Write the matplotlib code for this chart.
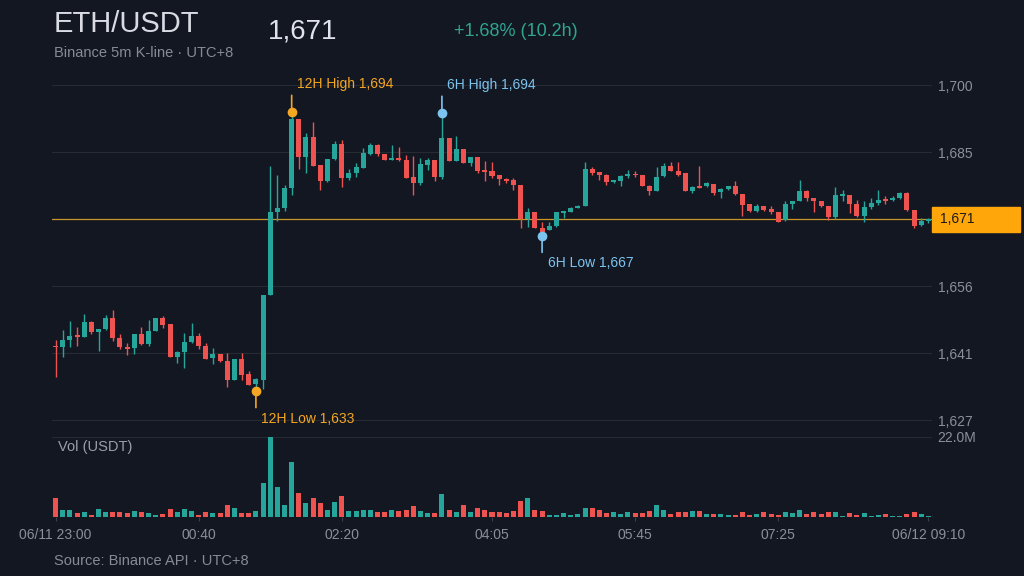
import numpy as np
import pandas as pd
import matplotlib.pyplot as plt
import matplotlib.transforms as mtransforms
from matplotlib.patches import Rectangle

plt.rcParams['font.family'] = ['Liberation Sans', 'DejaVu Sans']

# colours
bg = '#131722'
grid_c = '#262a33'
txt_c = '#8b8f98'
up_c = '#26a69a'
down_c = '#ef5350'
orange = '#f5a623'
blue = '#7cc4ef'

# 5m candles, 06/11 23:00 -> 06/12 09:10 (UTC+8)
opens = [1642.8, 1642.7, 1644.1, 1645.1, 1644.8, 1648.2, 1646.0, 1646.5, 1648.9, 1644.6,
         1642.7, 1642.3, 1645.4, 1643.2, 1646.2, 1648.9, 1647.6, 1640.5, 1641.6, 1643.7,
         1645.0, 1642.9, 1640.3, 1641.0, 1639.6, 1635.4, 1639.9, 1636.6, 1634.5, 1635.4,
         1654.1, 1672.1, 1673.0, 1677.4, 1692.5, 1684.3, 1688.7, 1682.5, 1679.0, 1683.7,
         1687.2, 1679.6, 1680.8, 1681.9, 1685.0, 1686.9, 1684.9, 1683.6, 1684.0, 1683.6,
         1679.8, 1678.6, 1682.5, 1683.6, 1679.8, 1688.5, 1683.3, 1685.9, 1683.0, 1684.2,
         1681.4, 1681.1, 1680.2, 1679.5, 1679.2, 1678.2, 1670.6, 1672.1, 1668.6, 1668.2,
         1669.1, 1671.9, 1672.3, 1673.0, 1673.6, 1681.7, 1680.9, 1680.4, 1678.7, 1679.0,
         1680.1, 1680.6, 1680.2, 1678.0, 1676.9, 1680.0, 1682.2, 1681.1, 1680.8, 1676.7,
         1677.8, 1677.9, 1678.3, 1676.5, 1677.2, 1678.0, 1676.2, 1673.9, 1672.4, 1673.6,
         1672.8, 1672.1, 1670.4, 1674.0, 1674.6, 1676.9, 1675.3, 1674.6, 1673.4, 1671.1,
         1675.8, 1675.9, 1674.0, 1671.4, 1673.3, 1674.2, 1675.0, 1674.8, 1675.3, 1676.4,
         1672.6, 1669.3, 1670.2]
highs = [1644.1, 1646.3, 1648.4, 1647.0, 1649.8, 1648.4, 1646.6, 1649.6, 1650.7, 1645.4,
         1643.6, 1645.4, 1646.9, 1648.5, 1648.9, 1649.4, 1647.6, 1641.8, 1645.6, 1647.9,
         1645.7, 1643.6, 1642.3, 1641.0, 1641.4, 1639.9, 1641.2, 1637.4, 1635.8, 1654.1,
         1682.3, 1680.3, 1678.2, 1694.1, 1692.5, 1689.4, 1692.0, 1682.5, 1683.7, 1687.8,
         1687.9, 1681.7, 1683.0, 1686.2, 1687.3, 1687.0, 1685.0, 1686.9, 1686.5, 1684.6,
         1684.4, 1684.1, 1684.0, 1683.6, 1693.9, 1688.5, 1688.9, 1685.9, 1684.2, 1684.2,
         1683.4, 1683.2, 1680.2, 1679.7, 1679.7, 1678.2, 1673.0, 1672.1, 1669.9, 1669.9,
         1672.3, 1672.4, 1673.2, 1673.8, 1683.2, 1682.0, 1681.0, 1680.5, 1679.3, 1680.3,
         1681.3, 1681.2, 1680.3, 1678.1, 1682.0, 1682.9, 1683.1, 1683.2, 1680.8, 1677.8,
         1682.2, 1678.7, 1678.3, 1677.5, 1677.9, 1679.0, 1676.2, 1673.9, 1673.9, 1673.6,
         1673.4, 1672.1, 1674.6, 1674.7, 1679.2, 1677.0, 1675.3, 1674.7, 1673.5, 1677.7,
         1677.0, 1676.0, 1674.8, 1674.6, 1675.2, 1677.1, 1675.8, 1675.8, 1676.5, 1676.6,
         1672.6, 1670.8, 1670.9]
lows = [1636.0, 1640.4, 1642.6, 1642.9, 1644.8, 1645.4, 1641.7, 1646.4, 1644.0, 1642.1,
        1640.8, 1641.0, 1643.1, 1642.9, 1646.2, 1646.7, 1640.5, 1639.2, 1638.1, 1643.4,
        1642.1, 1640.0, 1639.0, 1639.3, 1633.8, 1635.4, 1635.4, 1634.3, 1633.0, 1633.4,
        1654.0, 1670.2, 1672.4, 1676.0, 1681.7, 1680.8, 1682.3, 1677.1, 1678.8, 1683.5,
        1677.6, 1679.2, 1679.9, 1681.9, 1684.6, 1684.5, 1683.5, 1683.6, 1683.3, 1679.6,
        1675.9, 1678.1, 1681.5, 1679.0, 1679.4, 1683.3, 1683.3, 1683.0, 1682.2, 1680.7,
        1679.0, 1679.6, 1678.2, 1678.6, 1677.0, 1668.7, 1669.0, 1668.6, 1667.0, 1668.2,
        1668.9, 1670.9, 1672.1, 1673.0, 1673.6, 1680.3, 1679.1, 1678.2, 1678.5, 1677.9,
        1679.6, 1679.8, 1677.9, 1676.0, 1676.7, 1679.9, 1681.1, 1680.0, 1676.7, 1676.4,
        1677.5, 1677.6, 1675.9, 1675.2, 1677.0, 1676.0, 1671.3, 1672.2, 1672.2, 1672.4,
        1671.7, 1670.1, 1670.3, 1672.9, 1674.5, 1674.6, 1672.1, 1673.2, 1670.4, 1670.6,
        1674.5, 1671.9, 1671.0, 1669.9, 1672.9, 1673.8, 1674.0, 1674.6, 1675.1, 1672.5,
        1668.6, 1669.2, 1669.8]
closes = [1642.6, 1644.1, 1645.0, 1644.9, 1648.2, 1645.9, 1646.6, 1648.9, 1644.5, 1642.6,
          1642.1, 1645.4, 1643.2, 1646.2, 1648.9, 1647.5, 1640.5, 1641.6, 1643.7, 1645.0,
          1642.9, 1640.0, 1641.0, 1639.5, 1635.4, 1639.9, 1636.5, 1634.4, 1635.5, 1654.1,
          1672.2, 1673.0, 1677.4, 1692.5, 1684.3, 1688.7, 1682.3, 1679.0, 1683.7, 1687.2,
          1679.6, 1680.7, 1682.0, 1685.2, 1686.9, 1684.8, 1683.6, 1684.1, 1683.5, 1679.6,
          1678.6, 1682.7, 1683.6, 1679.8, 1688.5, 1683.3, 1685.9, 1683.0, 1684.2, 1681.2,
          1681.0, 1680.0, 1679.5, 1679.0, 1678.1, 1670.6, 1672.1, 1668.6, 1667.8, 1669.1,
          1672.3, 1672.4, 1673.0, 1673.6, 1681.7, 1680.7, 1680.3, 1678.7, 1679.1, 1680.1,
          1680.6, 1680.2, 1678.0, 1676.9, 1679.9, 1682.2, 1681.1, 1680.4, 1676.9, 1677.7,
          1677.5, 1678.5, 1676.4, 1677.2, 1677.9, 1676.2, 1673.8, 1672.4, 1673.6, 1672.6,
          1672.1, 1670.1, 1674.0, 1674.6, 1676.8, 1675.2, 1674.6, 1673.4, 1671.1, 1675.9,
          1676.0, 1673.9, 1671.4, 1673.2, 1674.2, 1674.9, 1674.7, 1675.3, 1676.4, 1672.6,
          1669.1, 1670.2, 1670.6]
# volume in millions of USDT
volumes = [5.3, 1.8, 2.0, 1.1, 1.4, 0.6, 2.2, 1.3, 1.3, 1.3,
           1.1, 1.7, 1.3, 1.1, 0.6, 0.9, 2.2, 1.5, 2.3, 1.6,
           0.6, 1.3, 1.1, 1.1, 3.3, 2.6, 1.1, 1.1, 1.6, 9.4,
           22.0, 8.3, 3.3, 15.0, 6.7, 3.9, 5.1, 3.9, 1.8, 4.2,
           5.9, 1.6, 1.6, 2.0, 1.8, 1.3, 1.3, 2.0, 1.7, 1.8,
           3.1, 1.6, 1.1, 1.1, 6.4, 2.0, 1.4, 3.3, 1.4, 2.4,
           1.8, 1.3, 1.3, 1.1, 1.6, 4.4, 5.1, 1.8, 1.6, 0.6,
           0.6, 1.1, 0.6, 0.9, 2.6, 2.4, 2.0, 1.1, 1.3, 0.9,
           1.3, 1.1, 1.1, 1.7, 3.4, 2.0, 0.9, 1.4, 1.4, 1.7,
           1.6, 0.9, 0.9, 0.9, 0.6, 0.6, 1.5, 0.6, 0.9, 1.5,
           0.9, 0.6, 1.5, 1.1, 1.8, 0.9, 1.5, 0.9, 1.3, 1.3,
           0.4, 1.1, 0.6, 1.1, 0.4, 0.6, 0.9, 0.4, 0.4, 0.9,
           1.3, 0.9, 0.4]

price_ticks = [1626.6, 1641.3, 1655.9, 1670.6, 1685.3, 1700.0]
vol_top = 22.0

times = pd.date_range('2023-06-11 23:00', periods=len(closes), freq='5min')

o = np.array(opens)
h = np.array(highs)
l = np.array(lows)
c = np.array(closes)
x = np.arange(len(c))
colors = np.where(c >= o, up_c, down_c)

fig = plt.figure(figsize=(10.24, 5.76), dpi=100, facecolor=bg)
ax = fig.add_axes([52/1024, 1-437/576, 880/1024, 372/576], facecolor=bg)
axv = fig.add_axes([52/1024, 1-517/576, 880/1024, 80/576], facecolor=bg)

# candles
ax.vlines(x, l, h, colors=colors, lw=1, zorder=3)
ax.bar(x, np.maximum(np.abs(c - o), 0.25), bottom=np.minimum(o, c), width=0.7,
       color=colors, zorder=4)
ax.set_xlim(-0.5, len(c) - 0.5)
ax.set_ylim(1622.9, 1704.4)

ax.set_yticks(price_ticks)
ax.set_yticklabels(['' if abs(t - c[-1]) < 3 else f'{t:,.0f}' for t in price_ticks])
ax.yaxis.tick_right()
ax.tick_params(axis='y', length=0, pad=4, labelcolor=txt_c, labelsize=10)
ax.set_xticks([])
ax.grid(axis='y', color=grid_c, lw=0.8)
ax.set_axisbelow(True)
for s in ax.spines.values():
    s.set_visible(False)

# last price line + label box
ax.axhline(c[-1], color='#c9962a', lw=0.9, zorder=2)
trans = mtransforms.blended_transform_factory(ax.transAxes, ax.transData)
ax.add_patch(Rectangle((1.0, c[-1] - 2.7), 0.1, 5.4, transform=trans, clip_on=False,
                       fc='#ffa60a', ec='#ffa60a', zorder=5))
ax.text(1.0 + 8/880, c[-1], f'{c[-1]:,.0f}', transform=trans, color='#1a1a1a',
        fontsize=10, va='center', ha='left', zorder=6)

# high / low markers
def mark(idx, price, label, col, up):
    sgn = 1 if up else -1
    ax.plot(idx, price, 'o', ms=6, color=col, zorder=6)
    ax.annotate('', xy=(idx, price), xytext=(0, sgn*14), textcoords='offset points',
                arrowprops=dict(arrowstyle='-', color=col, lw=1.2), zorder=5)
    ax.annotate(label, xy=(idx, price), xytext=(4, sgn*20), textcoords='offset points',
                color=col, fontsize=10, va='center', ha='left', annotation_clip=False)

n6 = 72
i12h = int(np.argmax(h))
i12l = int(np.argmin(l))
i6h = len(c) - n6 + int(np.argmax(h[-n6:]))
i6l = len(c) - n6 + int(np.argmin(l[-n6:]))
mark(i12h, h[i12h], f'12H High {h[i12h]:,.0f}', orange, True)
mark(i12l, l[i12l], f'12H Low {l[i12l]:,.0f}', orange, False)
mark(i6h, h[i6h], f'6H High {h[i6h]:,.0f}', blue, True)
mark(i6l, l[i6l], f'6H Low {l[i6l]:,.0f}', blue, False)

# volume
axv.bar(x, volumes, width=0.7, color=colors)
axv.set_xlim(-0.5, len(c) - 0.5)
axv.set_ylim(0, vol_top)
axv.set_yticks([vol_top])
axv.set_yticklabels([f'{vol_top:.1f}M'])
axv.yaxis.tick_right()
axv.tick_params(axis='y', length=0, pad=4, labelcolor=txt_c, labelsize=10)
axv.grid(axis='y', color=grid_c, lw=0.8)
axv.set_axisbelow(True)
for s in axv.spines.values():
    s.set_visible(False)
tick_idx = np.linspace(0, len(c) - 1, 7).astype(int)
tick_lab = [times[i].strftime('%m/%d %H:%M') if i in (0, len(c) - 1) else times[i].strftime('%H:%M')
            for i in tick_idx]
axv.set_xticks(tick_idx)
axv.set_xticklabels(tick_lab)
axv.tick_params(axis='x', length=3, color='#3a3f4a', labelcolor=txt_c, labelsize=10, pad=5)
axv.text(6/880, 0.875, 'Vol (USDT)', transform=axv.transAxes, color='#9a9ea6',
         fontsize=10.5, va='center', ha='left')

# header
fig.text(54/1024, 1-32/576, 'ETH/USDT', color='#d8dbe2', fontsize=21, va='baseline')
fig.text(268/1024, 1-38/576, '1,671', color='#e0e3ea', fontsize=20, va='baseline')
fig.text(454/1024, 1-36/576, '+1.68% (10.2h)', color='#2fa58f', fontsize=13, va='baseline')
fig.text(54/1024, 1-57/576, 'Binance 5m K-line · UTC+8', color='#868b94', fontsize=10.5,
         va='baseline')
fig.text(54/1024, 1-565/576, 'Source: Binance API · UTC+8', color='#868b94', fontsize=10.5,
         va='baseline')

fig.savefig('out.png', dpi=100, facecolor=bg)
